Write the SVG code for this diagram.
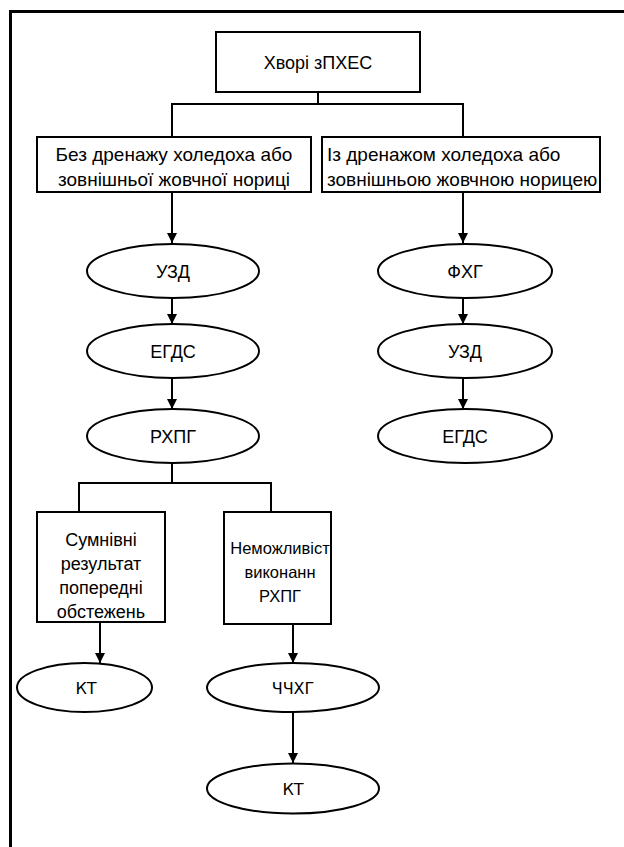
<svg xmlns="http://www.w3.org/2000/svg" width="624" height="847" viewBox="0 0 624 847">
<defs>
<marker id="ah" viewBox="0 0 10 14" refX="10" refY="5" markerWidth="10" markerHeight="14" markerUnits="userSpaceOnUse" orient="auto">
<path d="M0,0 L10,5 L0,10 Z" fill="#000"/>
</marker>
<style>
.box{fill:#fff;stroke:#000;stroke-width:2}
.ell{fill:#fff;stroke:#000;stroke-width:2}
.ln{fill:none;stroke:#000;stroke-width:2}
.ar{fill:none;stroke:#000;stroke-width:2}
.t{font-family:"Liberation Sans",Arial,sans-serif;font-size:19px;fill:#000;text-anchor:middle}
.tl{font-family:"Liberation Sans",Arial,sans-serif;font-size:19px;fill:#000}
.tb{font-family:"Liberation Sans",Arial,sans-serif;font-size:18px;fill:#000;text-anchor:middle}
.tn{font-family:"Liberation Sans",Arial,sans-serif;font-size:16.5px;fill:#000;text-anchor:middle}
.te{font-family:"Liberation Sans",Arial,sans-serif;font-size:18px;fill:#000;text-anchor:middle}
.td{font-family:"DejaVu Sans",sans-serif;font-size:16px;fill:#000;text-anchor:middle}
</style>
</defs>
<rect width="624" height="847" fill="#fff"/>
<path d="M10.5,847 V11.5 H624" fill="none" stroke="#000" stroke-width="3"/>

<g id="connectors">
<path class="ln" d="M318,92 V104 M172,137 V104 H463 V137"/>
<path class="ar" d="M172,192 V243" marker-end="url(#ah)"/>
<path class="ar" d="M172,298 V324" marker-end="url(#ah)"/>
<path class="ar" d="M172,378 V409" marker-end="url(#ah)"/>
<path class="ar" d="M463,192 V243" marker-end="url(#ah)"/>
<path class="ar" d="M463,298 V324" marker-end="url(#ah)"/>
<path class="ar" d="M463,378 V409" marker-end="url(#ah)"/>
<path class="ln" d="M172,463 V483 M79,512 V483 H271 V512"/>
<path class="ar" d="M100,623 V663" marker-end="url(#ah)"/>
<path class="ar" d="M293,625 V663" marker-end="url(#ah)"/>
<path class="ar" d="M293,712 V763" marker-end="url(#ah)"/>
</g>

<g id="n-root">
<rect class="box" x="216" y="32" width="204" height="60"/>
<text class="tb" x="318" y="69">Хворі зПХЕС</text>
</g>
<g id="n-left">
<rect class="box" x="37" y="137" width="274" height="55"/>
<text class="t" x="174" y="161">Без дренажу холедоха або</text>
<text class="t" x="174" y="186">зовнішньої жовчної нориці</text>
</g>
<g id="n-right">
<rect class="box" x="322" y="137" width="278" height="55"/>
<text class="tl" x="327" y="161">Із дренажом холедоха або</text>
<text class="tl" x="327" y="186">зовнішньою жовчною норицею</text>
</g>
<g id="n-uzd1">
<ellipse class="ell" cx="173" cy="271" rx="86" ry="27"/>
<text class="te" x="173" y="278">УЗД</text>
</g>
<g id="n-egds1">
<ellipse class="ell" cx="173" cy="351" rx="86" ry="27"/>
<text class="te" x="173" y="358">ЕГДС</text>
</g>
<g id="n-rhpg">
<ellipse class="ell" cx="173" cy="436" rx="86" ry="27"/>
<text class="te" x="173" y="443">РХПГ</text>
</g>
<g id="n-fhg">
<ellipse class="ell" cx="465" cy="271" rx="87" ry="27"/>
<text class="te" x="465" y="278">ФХГ</text>
</g>
<g id="n-uzd2">
<ellipse class="ell" cx="465" cy="351" rx="87" ry="27"/>
<text class="te" x="465" y="358">УЗД</text>
</g>
<g id="n-egds2">
<ellipse class="ell" cx="465" cy="436" rx="87" ry="27"/>
<text class="te" x="465" y="443">ЕГДС</text>
</g>
<g id="n-doubt">
<rect class="box" x="37" y="512" width="128" height="110"/>
<text class="tb" x="101" y="546">Сумнівні</text>
<text class="tb" x="101" y="570">результат</text>
<text class="tb" x="101" y="594">попередні</text>
<text class="tb" x="101" y="618">обстежень</text>
</g>
<g id="n-imposs">
<rect class="box" x="224" y="512" width="107" height="112"/>
<text class="tn" x="280" y="554">Неможливіст</text>
<text class="tn" x="280" y="578">виконанн</text>
<text class="tn" x="280" y="602">РХПГ</text>
</g>
<g id="n-kt1">
<ellipse class="ell" cx="84.5" cy="687.5" rx="67.5" ry="24.5"/>
<text class="td" x="86" y="694">КТ</text>
</g>
<g id="n-chchhg">
<ellipse class="ell" cx="293" cy="687.5" rx="86" ry="24.5"/>
<text class="td" x="293" y="694">ЧЧХГ</text>
</g>
<g id="n-kt2">
<ellipse class="ell" cx="293" cy="788.5" rx="86" ry="25"/>
<text class="td" x="293" y="795">КТ</text>
</g>
</svg>
